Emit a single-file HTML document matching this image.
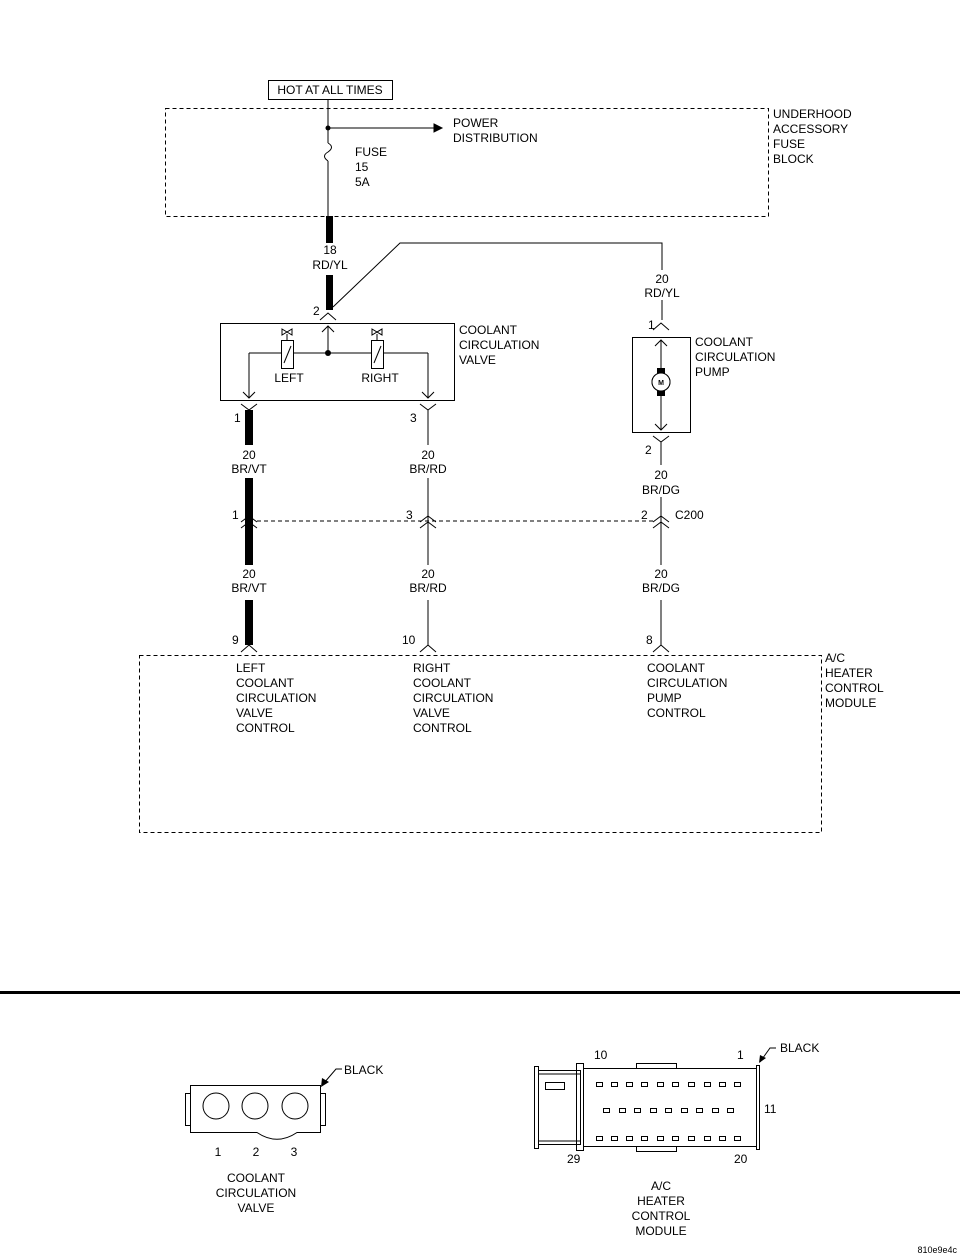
<!DOCTYPE html>
<html><head><style>body{margin:0;background:#fff}svg{display:block}text{font-family:"Liberation Sans",sans-serif;font-size:12px;fill:#000}</style></head><body>
<svg width="960" height="1258" viewBox="0 0 960 1258" xmlns="http://www.w3.org/2000/svg">
<g fill="none" stroke="#000" stroke-width="1">
<rect x="268.5" y="80.5" width="124" height="19"/>
<rect x="165.5" y="108.5" width="603" height="108" stroke-dasharray="4,3"/>
<line x1="328" y1="100" x2="328" y2="143"/>
<path d="M328 143 q7 4 0 9 q-7 4 0 9"/>
<line x1="328" y1="161" x2="328" y2="216"/>
<line x1="328" y1="128" x2="440" y2="128"/>
<path d="M434 124 L442 128 L434 132Z" fill="#000"/>
<path d="M333 307 L400 243 L662 243 L662 270"/>
<line x1="662" y1="300" x2="662" y2="320"/>
<path d="M320 320 L328 313 L336 320"/>
<rect x="220.5" y="323.5" width="234" height="77"/>
<path d="M328 353 L328 326 M322 332 L328 326 L334 332"/>
<line x1="249" y1="353" x2="428" y2="353"/>
<rect x="281.5" y="340.5" width="12" height="28" fill="#fff"/>
<line x1="284" y1="363" x2="291" y2="346"/>
<rect x="371.5" y="340.5" width="12" height="28" fill="#fff"/>
<line x1="374" y1="363" x2="381" y2="346"/>
<line x1="287" y1="340" x2="287" y2="334"/><path d="M282 329 L292 335 L292 329 L282 335Z"/>
<line x1="377" y1="340" x2="377" y2="334"/><path d="M372 329 L382 335 L382 329 L372 335Z"/>
<path d="M249 353 L249 398 M243 392 L249 398 L255 392"/>
<path d="M428 353 L428 398 M422 392 L428 398 L434 392"/>
<path d="M241 404 L249 410 L257 404"/>
<path d="M420 404 L428 410 L436 404"/>
<line x1="428" y1="410" x2="428" y2="445"/>
<line x1="428" y1="478" x2="428" y2="565"/>
<line x1="428" y1="600" x2="428" y2="645"/>
<path d="M420 522 L428 516 L436 522 M420 528 L428 522 L436 528"/>
<path d="M653 522 L661 516 L669 522 M653 528 L661 522 L669 528"/>
<path d="M241 522 L249 516 L257 522 M241 528 L249 522 L257 528"/>
<line x1="257" y1="521" x2="653" y2="521" stroke-dasharray="4,3"/>
<path d="M420 652 L428 645 L436 652"/>
<path d="M653 652 L661 645 L669 652"/>
<path d="M241 652 L249 645 L257 652"/>
<path d="M653 330 L661 323 L669 330"/>
<rect x="632.5" y="337.5" width="58" height="95"/>
<path d="M661 340 L661 430 M655 346 L661 340 L667 346 M655 424 L661 430 L667 424"/>
<circle cx="661" cy="382" r="9" fill="#fff"/>
<path d="M653 436 L661 442 L669 436"/>
<line x1="661" y1="442" x2="661" y2="465"/>
<line x1="661" y1="497" x2="661" y2="565"/>
<line x1="661" y1="600" x2="661" y2="645"/>
<rect x="139.5" y="655.5" width="682" height="177" stroke-dasharray="4,3"/>
</g>
<g fill="#000">
<rect x="326" y="216" width="7" height="27"/>
<rect x="326" y="275" width="7" height="35"/>
<rect x="245" y="410" width="8" height="35"/>
<rect x="245" y="478" width="8" height="87"/>
<rect x="245" y="600" width="8" height="45"/>
<circle cx="328" cy="128" r="2.5"/>
<circle cx="328" cy="353" r="3"/>
<rect x="657" y="368" width="8" height="6"/><rect x="657" y="390" width="8" height="6"/>
</g>
<circle cx="661" cy="382" r="9" fill="#fff" stroke="#000"/>
<text x="330" y="94" text-anchor="middle">HOT AT ALL TIMES</text>
<text x="453" y="127">POWER</text><text x="453" y="142">DISTRIBUTION</text>
<text x="355" y="156">FUSE</text><text x="355" y="171">15</text><text x="355" y="186">5A</text>
<text x="773" y="118">UNDERHOOD</text><text x="773" y="133">ACCESSORY</text><text x="773" y="148">FUSE</text><text x="773" y="163">BLOCK</text>
<text x="330" y="254" text-anchor="middle">18</text><text x="330" y="269" text-anchor="middle">RD/YL</text>
<text x="662" y="283" text-anchor="middle">20</text><text x="662" y="297" text-anchor="middle">RD/YL</text>
<text x="313" y="315">2</text>
<text x="459" y="334">COOLANT</text><text x="459" y="349">CIRCULATION</text><text x="459" y="364">VALVE</text>
<text x="289" y="382" text-anchor="middle">LEFT</text><text x="380" y="382" text-anchor="middle">RIGHT</text>
<text x="648" y="329">1</text>
<text x="695" y="346">COOLANT</text><text x="695" y="361">CIRCULATION</text><text x="695" y="376">PUMP</text>
<text x="661" y="385" text-anchor="middle" style="font-size:7px;font-weight:bold">M</text>
<text x="645" y="454">2</text>
<text x="234" y="422">1</text><text x="410" y="422">3</text>
<text x="249" y="459" text-anchor="middle">20</text><text x="249" y="473" text-anchor="middle">BR/VT</text>
<text x="428" y="459" text-anchor="middle">20</text><text x="428" y="473" text-anchor="middle">BR/RD</text>
<text x="661" y="479" text-anchor="middle">20</text><text x="661" y="494" text-anchor="middle">BR/DG</text>
<text x="232" y="519">1</text><text x="406" y="519">3</text><text x="641" y="519">2</text><text x="675" y="519">C200</text>
<text x="249" y="578" text-anchor="middle">20</text><text x="249" y="592" text-anchor="middle">BR/VT</text>
<text x="428" y="578" text-anchor="middle">20</text><text x="428" y="592" text-anchor="middle">BR/RD</text>
<text x="661" y="578" text-anchor="middle">20</text><text x="661" y="592" text-anchor="middle">BR/DG</text>
<text x="232" y="644">9</text><text x="402" y="644">10</text><text x="646" y="644">8</text>
<text x="236" y="672">LEFT</text><text x="236" y="687">COOLANT</text><text x="236" y="702">CIRCULATION</text><text x="236" y="717">VALVE</text><text x="236" y="732">CONTROL</text>
<text x="413" y="672">RIGHT</text><text x="413" y="687">COOLANT</text><text x="413" y="702">CIRCULATION</text><text x="413" y="717">VALVE</text><text x="413" y="732">CONTROL</text>
<text x="647" y="672">COOLANT</text><text x="647" y="687">CIRCULATION</text><text x="647" y="702">PUMP</text><text x="647" y="717">CONTROL</text>
<text x="825" y="662">A/C</text><text x="825" y="677">HEATER</text><text x="825" y="692">CONTROL</text><text x="825" y="707">MODULE</text>
<rect x="0" y="991" width="960" height="3" fill="#000"/>
<g fill="none" stroke="#000" stroke-width="1">
<rect x="185.5" y="1093.5" width="5" height="32"/><rect x="320.5" y="1093.5" width="5" height="32"/>
<path d="M190.5 1085.5 H320.5 V1132.5 H297 Q277 1146 257 1132.5 H190.5Z"/>
<circle cx="216" cy="1106" r="13"/><circle cx="255" cy="1106" r="13"/><circle cx="295" cy="1106" r="13"/>
<path d="M342 1069 L336 1069 L324 1083"/>
<rect x="534.5" y="1066.5" width="4" height="82"/>
<rect x="538.5" y="1070.5" width="42" height="74"/>
<line x1="538" y1="1074" x2="580" y2="1074"/><line x1="538" y1="1141" x2="580" y2="1141"/>
<rect x="545.5" y="1082.5" width="19" height="7"/>
<rect x="576.5" y="1063.5" width="7" height="87"/>
<rect x="583.5" y="1068.5" width="173" height="78"/>
<rect x="756.5" y="1065.5" width="3" height="84"/>
<path d="M636.5 1068 V1063.5 H676.5 V1068 M636.5 1147 V1151.5 H676.5 V1147"/>
<path d="M776 1048 L770 1048 L760 1062"/>
</g>
<path d="M322 1086 L330 1076 L327 1080Z M321 1087 L322 1078 L329 1082Z" fill="#000"/>
<path d="M759 1063 L760 1055 L766 1058Z" fill="#000"/>
<g fill="none" stroke="#000" stroke-width="1">
<rect x="596.5" y="1082.5" width="6" height="4"/><rect x="611.5" y="1082.5" width="6" height="4"/><rect x="626.5" y="1082.5" width="6" height="4"/><rect x="641.5" y="1082.5" width="6" height="4"/><rect x="657.5" y="1082.5" width="6" height="4"/><rect x="672.5" y="1082.5" width="6" height="4"/><rect x="688.5" y="1082.5" width="6" height="4"/><rect x="704.5" y="1082.5" width="6" height="4"/><rect x="719.5" y="1082.5" width="6" height="4"/><rect x="734.5" y="1082.5" width="6" height="4"/>
<rect x="603.5" y="1108.5" width="6" height="4"/><rect x="619.5" y="1108.5" width="6" height="4"/><rect x="634.5" y="1108.5" width="6" height="4"/><rect x="650.5" y="1108.5" width="6" height="4"/><rect x="665.5" y="1108.5" width="6" height="4"/><rect x="681.5" y="1108.5" width="6" height="4"/><rect x="696.5" y="1108.5" width="6" height="4"/><rect x="712.5" y="1108.5" width="6" height="4"/><rect x="727.5" y="1108.5" width="6" height="4"/>
<g transform="translate(0,54)"><rect x="596.5" y="1082.5" width="6" height="4"/><rect x="611.5" y="1082.5" width="6" height="4"/><rect x="626.5" y="1082.5" width="6" height="4"/><rect x="641.5" y="1082.5" width="6" height="4"/><rect x="657.5" y="1082.5" width="6" height="4"/><rect x="672.5" y="1082.5" width="6" height="4"/><rect x="688.5" y="1082.5" width="6" height="4"/><rect x="704.5" y="1082.5" width="6" height="4"/><rect x="719.5" y="1082.5" width="6" height="4"/><rect x="734.5" y="1082.5" width="6" height="4"/></g>
</g>
<text x="344" y="1074">BLACK</text>
<text x="218" y="1156" text-anchor="middle">1</text><text x="256" y="1156" text-anchor="middle">2</text><text x="294" y="1156" text-anchor="middle">3</text>
<text x="256" y="1182" text-anchor="middle">COOLANT</text><text x="256" y="1197" text-anchor="middle">CIRCULATION</text><text x="256" y="1212" text-anchor="middle">VALVE</text>
<text x="780" y="1052">BLACK</text>
<text x="594" y="1059">10</text><text x="737" y="1059">1</text><text x="764" y="1113">11</text>
<text x="567" y="1163">29</text><text x="734" y="1163">20</text>
<text x="661" y="1190" text-anchor="middle">A/C</text><text x="661" y="1205" text-anchor="middle">HEATER</text><text x="661" y="1220" text-anchor="middle">CONTROL</text><text x="661" y="1235" text-anchor="middle">MODULE</text>
<text x="957" y="1253" text-anchor="end" style="font-size:9px">810e9e4c</text>
</svg>
</body></html>
